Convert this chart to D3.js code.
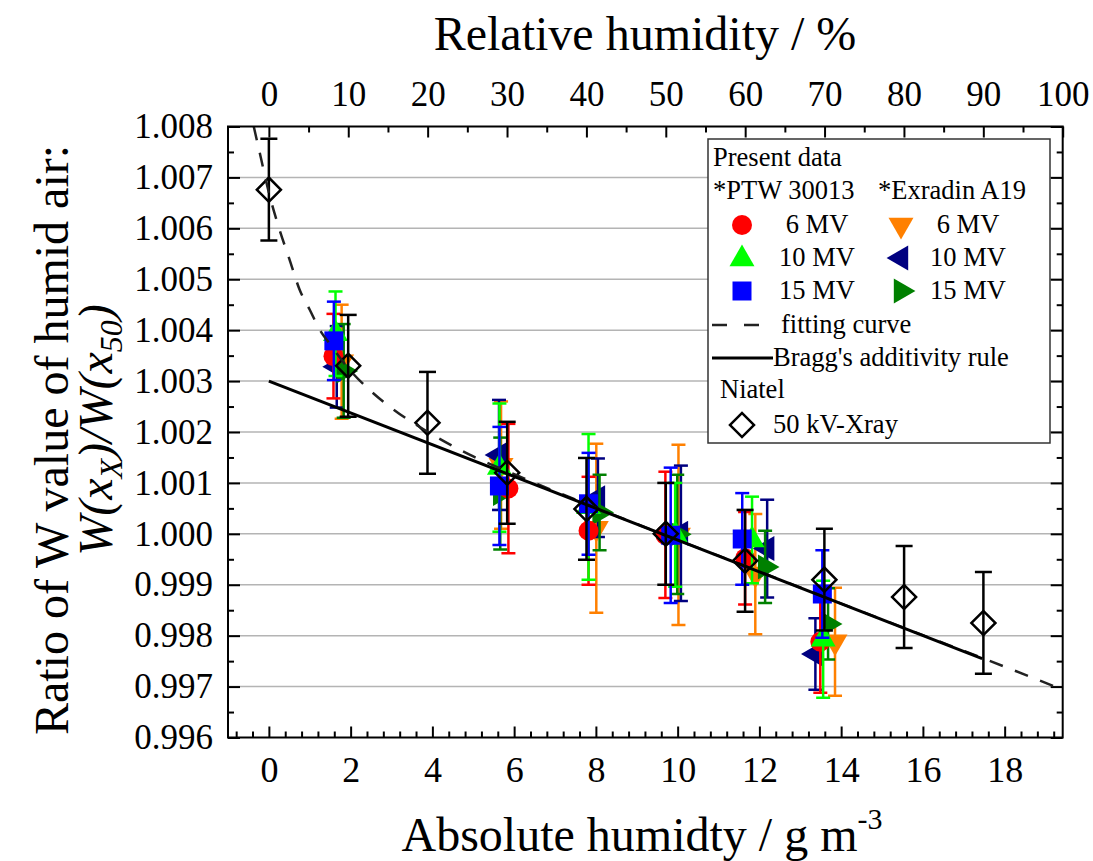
<!DOCTYPE html>
<html lang="en">
  <head>
    <meta charset="utf-8" />
    <title>W value of humid air</title>
    <style>
      body { margin: 0; background: #fff; }
      svg { display: block; font-family: "Liberation Serif", "Times New Roman", serif; }
    </style>
  </head>
  <body>
    <svg id="chart" width="1093" height="861"></svg>
    <script src="https://d3js.org/d3.v7.min.js"></script>
    <script>
      // Niatel, 50 kV X-ray (relative humidity 0..90 %)
      const niatelX = [0, 1.94, 3.88, 5.83, 7.77, 9.71, 11.65, 13.59, 15.54, 17.48];
      const niatelY = [1.00676, 1.0033, 1.00218, 1.0012, 1.00049, 1.0, 0.99947, 0.9991, 0.99876, 0.99825];
      const niatelErr = [0.001, 0.001, 0.001, 0.001, 0.001, 0.001, 0.001, 0.001, 0.001, 0.001];

      // PTW 30013
      const ptw6X = [1.58, 5.86, 7.82, 9.7, 11.65, 13.49];
      const ptw6Y = [1.00349, 1.00089, 1.00006, 0.99998, 0.99952, 0.99788];
      const ptw6Err = [0.00083, 0.00127, 0.00106, 0.00124, 0.00091, 0.001];

      const ptw10X = [1.63, 5.64, 7.82, 9.94, 11.82, 13.56];
      const ptw10Y = [1.00393, 1.0013, 1.00053, 0.99998, 0.99988, 0.99793];
      const ptw10Err = [0.00083, 0.00126, 0.00143, 0.00102, 0.00085, 0.00115];

      const ptw15X = [1.59, 5.64, 7.82, 9.83, 11.58, 13.54];
      const ptw15Y = [1.00379, 1.00094, 1.00059, 0.99997, 0.9999, 0.99882];
      const ptw15Err = [0.00077, 0.00116, 0.001, 0.00133, 0.0009, 0.00086];

      // Exradin A19
      const exr6X = [1.78, 5.68, 8.01, 10.02, 11.9, 13.85];
      const exr6Y = [1.00338, 1.00135, 1.00011, 0.99998, 0.99921, 0.99788];
      const exr6Err = [0.00112, 0.00125, 0.00166, 0.00177, 0.00118, 0.00106];

      const exr10X = [1.66, 5.63, 8.05, 10.08, 12.19, 13.37];
      const exr10Y = [1.00328, 1.00155, 1.00071, 1.00001, 0.99971, 0.99764];
      const exr10Err = [0.0008, 0.00108, 0.00077, 0.00133, 0.00096, 0.0007];

      const exr15X = [1.83, 5.66, 8.09, 9.99, 12.14, 13.68];
      const exr15Y = [1.0032, 1.00079, 1.00042, 0.99999, 0.99935, 0.99823];
      const exr15Err = [0.00092, 0.0011, 0.00074, 0.00117, 0.00071, 0.0007];

      // fitting curve (dashed) and Bragg's additivity rule (solid)
      const fitX = [-0.37, -0.2, 0, 0.25, 0.5, 0.75, 1.0, 1.25, 1.5, 2.0, 2.5, 3.0, 4.0, 5.0, 6.0, 8.0, 10, 12, 14, 16, 18, 19.42];
      const fitY = [1.008, 1.0074, 1.0067, 1.006, 1.0054, 1.0048, 1.0044, 1.004, 1.00372, 1.0032, 1.0028, 1.00247, 1.00195, 1.00152, 1.00117, 1.00051, 0.99988, 0.99926, 0.99863, 0.99801, 0.99739, 0.99694];
      const braggX = [0, 17.45];
      const braggY = [1.003, 0.99755];

      // ticks
      const xTicks = [0, 2, 4, 6, 8, 10, 12, 14, 16, 18];
      const rhTicks = [0, 10, 20, 30, 40, 50, 60, 70, 80, 90, 100];
      const yTicks = [0.996, 0.997, 0.998, 0.999, 1.0, 1.001, 1.002, 1.003, 1.004, 1.005, 1.006, 1.007, 1.008];

      var plotLeft = 228, plotRight = 1062.7, plotTop = 126.5, plotBottom = 737.5;
      var svg = d3.select("#chart");

      var x = d3.scaleLinear().domain([-1, 19.42]).range([plotLeft, plotRight]);
      var rh = d3.scaleLinear().domain([-100 / 19.42, 100]).range([plotLeft, plotRight]);
      var y = d3.scaleLinear().domain([0.996, 1.008]).range([plotBottom, plotTop]);

      svg.append("defs").append("clipPath").attr("id", "plot-clip")
        .append("rect").attr("x", plotLeft).attr("y", plotTop)
        .attr("width", plotRight - plotLeft).attr("height", plotBottom - plotTop);

      // grid lines
      svg.append("g").selectAll("line")
        .data(yTicks.slice(1, -1))
        .join("line")
        .attr("x1", plotLeft).attr("x2", plotRight)
        .attr("y1", (d) => y(d)).attr("y2", (d) => y(d))
        .attr("stroke", "#b4b4b4").attr("stroke-width", 1.5);

      // axes
      var xMinor = d3.range(-2, 49).map((i) => +(i * 0.4).toFixed(1))
        .filter((v) => v > -1 && v < 19.42 && Math.abs(v / 2 - Math.round(v / 2)) > 1e-6);
      var rhMinor = d3.range(5, 100, 10);
      var yMinor = d3.range(0, 12).map((i) => 0.9965 + i * 0.001);

      function styleAxis(g, size) {
        g.attr("font-size", null).attr("font-family", null);
        g.select(".domain").remove();
        g.selectAll(".tick line").attr("stroke", "#000").attr("stroke-width", 2);
        g.selectAll("text").attr("fill", "#000").style("font-size", size + "px");
      }

      svg.append("g").attr("transform", "translate(0," + plotBottom + ")")
        .call(d3.axisBottom(x).tickValues(xTicks).tickSize(-11).tickPadding(19).tickFormat(d3.format("d")))
        .call((g) => styleAxis(g, 36));
      svg.append("g").attr("transform", "translate(0," + plotBottom + ")")
        .call(d3.axisBottom(x).tickValues(xMinor).tickSize(-6).tickFormat(""))
        .call((g) => styleAxis(g, 36));

      svg.append("g").attr("transform", "translate(0," + plotTop + ")")
        .call(d3.axisTop(rh).tickValues(rhTicks).tickSize(-11).tickPadding(21).tickFormat(d3.format("d")))
        .call((g) => styleAxis(g, 35));
      svg.append("g").attr("transform", "translate(0," + plotTop + ")")
        .call(d3.axisTop(rh).tickValues(rhMinor).tickSize(-6).tickFormat(""))
        .call((g) => styleAxis(g, 35));

      svg.append("g").attr("transform", "translate(" + plotLeft + ",0)")
        .call(d3.axisLeft(y).tickValues(yTicks).tickSize(-12).tickPadding(15).tickFormat(d3.format(".3f")))
        .call((g) => styleAxis(g, 35));
      svg.append("g").attr("transform", "translate(" + plotLeft + ",0)")
        .call(d3.axisLeft(y).tickValues(yMinor).tickSize(-6).tickFormat(""))
        .call((g) => styleAxis(g, 35));
      svg.append("g").attr("transform", "translate(" + plotRight + ",0)")
        .call(d3.axisRight(y).tickValues(yTicks).tickSize(-12).tickFormat(""))
        .call((g) => styleAxis(g, 35));
      svg.append("g").attr("transform", "translate(" + plotRight + ",0)")
        .call(d3.axisRight(y).tickValues(yMinor).tickSize(-6).tickFormat(""))
        .call((g) => styleAxis(g, 35));

      // series, drawn in back-to-front order
      var series = [
        { xs: exr6X, ys: exr6Y, err: exr6Err, color: "#ff8000", shape: "tri", rot: 180 },
        { xs: exr10X, ys: exr10Y, err: exr10Err, color: "#000080", shape: "tri", rot: -90 },
        { xs: exr15X, ys: exr15Y, err: exr15Err, color: "#008000", shape: "tri", rot: 90 },
        { xs: ptw6X, ys: ptw6Y, err: ptw6Err, color: "#ff0000", shape: "circle", rot: 0 },
        { xs: ptw10X, ys: ptw10Y, err: ptw10Err, color: "#00ff00", shape: "tri", rot: 0 },
        { xs: ptw15X, ys: ptw15Y, err: ptw15Err, color: "#0000ff", shape: "square", rot: 0 },
      ];

      function symbolPath(shape) {
        if (shape === "circle") return d3.symbol(d3.symbolCircle, 314)();
        if (shape === "square") return d3.symbol(d3.symbolSquare, 361)();
        if (shape === "diamond") return d3.symbol(d3.symbolSquare, 289)();
        return d3.symbol(d3.symbolTriangle, 270)();
      }

      function drawErrorBars(g, xs, ys, err, color, cap) {
        var pts = xs.map((v, i) => ({ x: v, y: ys[i], e: err[i] }));
        var eb = g.append("g").attr("stroke", color).attr("stroke-width", 2.5);
        eb.selectAll(".v").data(pts).join("line")
          .attr("x1", (d) => x(d.x)).attr("x2", (d) => x(d.x))
          .attr("y1", (d) => y(d.y - d.e)).attr("y2", (d) => y(d.y + d.e));
        eb.selectAll(".t").data(pts).join("line")
          .attr("x1", (d) => x(d.x) - cap / 2).attr("x2", (d) => x(d.x) + cap / 2)
          .attr("y1", (d) => y(d.y + d.e)).attr("y2", (d) => y(d.y + d.e));
        eb.selectAll(".b").data(pts).join("line")
          .attr("x1", (d) => x(d.x) - cap / 2).attr("x2", (d) => x(d.x) + cap / 2)
          .attr("y1", (d) => y(d.y - d.e)).attr("y2", (d) => y(d.y - d.e));
      }

      var plot = svg.append("g").attr("clip-path", "url(#plot-clip)");

      series.forEach(function (s) {
        var g = plot.append("g");
        drawErrorBars(g, s.xs, s.ys, s.err, s.color, 14);
        g.selectAll("path").data(s.xs.map((v, i) => [v, s.ys[i]])).join("path")
          .attr("d", symbolPath(s.shape))
          .attr("transform", (d) => "translate(" + x(d[0]) + "," + y(d[1]) + ") rotate(" + s.rot + ")")
          .attr("fill", s.color);
      });

      // Niatel
      var ng = plot.append("g");
      drawErrorBars(ng, niatelX, niatelY, niatelErr, "#000", 17);
      ng.selectAll("path").data(niatelX.map((v, i) => [v, niatelY[i]])).join("path")
        .attr("d", symbolPath("diamond"))
        .attr("transform", (d) => "translate(" + x(d[0]) + "," + y(d[1]) + ") rotate(45)")
        .attr("fill", "none").attr("stroke", "#000").attr("stroke-width", 2.5);

      // curves
      plot.append("path")
        .datum(fitX.map((v, i) => [v, fitY[i]]))
        .attr("d", d3.line().x((d) => x(d[0])).y((d) => y(d[1])).curve(d3.curveMonotoneX))
        .attr("fill", "none").attr("stroke", "#222").attr("stroke-width", 2.5)
        .attr("stroke-dasharray", "14,13");
      plot.append("path")
        .datum(braggX.map((v, i) => [v, braggY[i]]))
        .attr("d", d3.line().x((d) => x(d[0])).y((d) => y(d[1])))
        .attr("fill", "none").attr("stroke", "#000").attr("stroke-width", 3);

      // frame
      svg.append("rect").attr("x", plotLeft).attr("y", plotTop)
        .attr("width", plotRight - plotLeft).attr("height", plotBottom - plotTop)
        .attr("fill", "none").attr("stroke", "#000").attr("stroke-width", 2);

      // axis titles
      svg.append("text").attr("x", 645).attr("y", 50).attr("text-anchor", "middle")
        .style("font-size", "48px").text("Relative humidity / %");

      var xt = svg.append("text").attr("x", 642).attr("y", 851).attr("text-anchor", "middle")
        .style("font-size", "48px");
      xt.append("tspan").text("Absolute humidty / g m");
      xt.append("tspan").attr("dy", -22).style("font-size", "30px").text("-3");

      svg.append("text").attr("transform", "translate(68,440) rotate(-90)")
        .attr("text-anchor", "middle").style("font-size", "48px")
        .text("Ratio of W value of humid air:");

      var yt = svg.append("text").attr("transform", "translate(112,430) rotate(-90)")
        .attr("text-anchor", "middle").style("font-size", "48px").style("font-style", "italic");
      yt.append("tspan").text("W(x");
      yt.append("tspan").attr("dy", 10).style("font-size", "32px").text("X");
      yt.append("tspan").attr("dy", -10).text(")/W(x");
      yt.append("tspan").attr("dy", 10).style("font-size", "32px").text("50");
      yt.append("tspan").attr("dy", -10).text(")");

      // legend
      var lg = svg.append("g").style("font-size", "26.5px");
      lg.append("rect").attr("x", 708).attr("y", 139).attr("width", 342).attr("height", 304)
        .attr("fill", "#fff").attr("stroke", "#333").attr("stroke-width", 1.5);
      lg.append("text").attr("x", 713).attr("y", 166).text("Present data");
      lg.append("text").attr("x", 713).attr("y", 199).text("*PTW 30013");
      lg.append("text").attr("x", 878).attr("y", 199).text("*Exradin A19");

      var legendRows = [
        { s: series[3], cx: 742, cy: 225, tx: 817, ty: 233, label: "6 MV" },
        { s: series[4], cx: 742, cy: 259, tx: 817, ty: 266, label: "10 MV" },
        { s: series[5], cx: 742, cy: 291, tx: 817, ty: 299, label: "15 MV" },
        { s: series[0], cx: 901, cy: 225, tx: 968, ty: 233, label: "6 MV" },
        { s: series[1], cx: 901, cy: 258, tx: 968, ty: 266, label: "10 MV" },
        { s: series[2], cx: 901, cy: 291, tx: 968, ty: 299, label: "15 MV" },
      ];
      legendRows.forEach(function (r) {
        lg.append("path").attr("d", symbolPath(r.s.shape))
          .attr("transform", "translate(" + r.cx + "," + r.cy + ") rotate(" + r.s.rot + ")")
          .attr("fill", r.s.color);
        lg.append("text").attr("x", r.tx).attr("y", r.ty).attr("text-anchor", "middle").text(r.label);
      });

      lg.append("line").attr("x1", 712).attr("x2", 760).attr("y1", 325).attr("y2", 325)
        .attr("stroke", "#222").attr("stroke-width", 2.5).attr("stroke-dasharray", "15,17");
      lg.append("text").attr("x", 781).attr("y", 333).text("fitting curve");
      lg.append("line").attr("x1", 712).attr("x2", 773).attr("y1", 358).attr("y2", 358)
        .attr("stroke", "#000").attr("stroke-width", 3);
      lg.append("text").attr("x", 773).attr("y", 366).text("Bragg's additivity rule");
      lg.append("text").attr("x", 720).attr("y", 398).text("Niatel");
      lg.append("path").attr("d", symbolPath("diamond"))
        .attr("transform", "translate(742,425) rotate(45)")
        .attr("fill", "none").attr("stroke", "#000").attr("stroke-width", 2.5);
      lg.append("text").attr("x", 773).attr("y", 433).text("50 kV-Xray");
    </script>
  </body>
</html>
